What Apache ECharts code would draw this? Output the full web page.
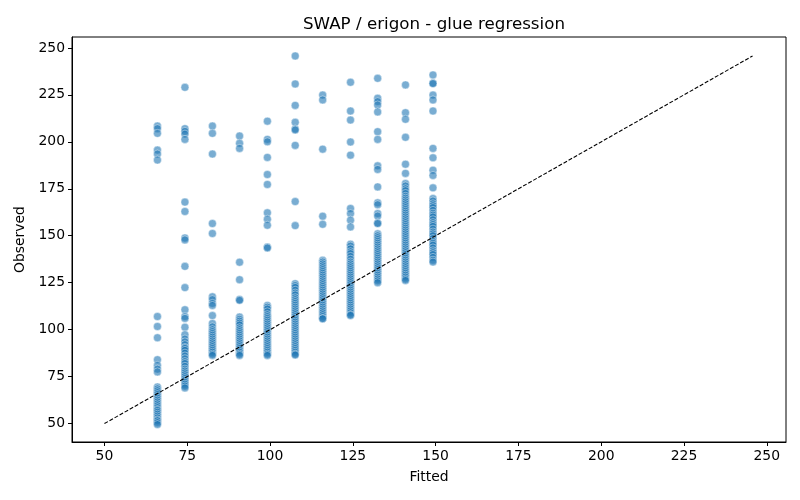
<!DOCTYPE html>
<html>
<head>
<meta charset="utf-8">
<script src="https://cdn.jsdelivr.net/npm/echarts@6/dist/echarts.min.js"></script>
<style>
  html, body { margin: 0; padding: 0; background: #fff; }
  #chart { width: 800px; height: 500px; }
</style>
</head>
<body>
<div id="chart"></div>
<script>
// fitted levels (x) and the observed values read at each level (y)
const fittedLevels = [66.0, 74.3, 82.6, 90.8, 99.2, 107.6, 115.9, 124.3, 132.5, 140.9, 149.2];

const obs66 = [208.4, 207, 204.5, 195.6, 193.5, 190.3, 107, 101.7, 95.7, 84, 81, 79, 77.5,
  69.5, 68.5, 67.5, 66.5, 65.5, 64.5, 63.5, 62.5, 61.5, 60.5, 59.5, 58.5, 57.5, 57, 56, 55,
  54, 53, 52, 51.5, 50.5, 49.5];
const obs74 = [229, 207, 205.6, 204.1, 201.3, 167.9, 162.9, 148.8, 147.8, 133.7, 122.4, 110.6,
  107, 106, 101.3, 97.3, 95, 93.5, 92, 90.5, 90, 89, 87.5, 86, 84.5, 83, 82, 80.5, 79, 78, 77,
  76, 75, 74, 73, 72, 71, 70, 69];
const obs83 = [208.4, 204.5, 193.5, 156.5, 151.2, 117.5, 116, 114, 112.9, 107.5, 103.3, 101.5,
  100, 99, 98, 97, 96, 95, 94, 93, 92, 91, 90, 89, 88, 87, 86.3];
const obs91 = [203.1, 199.2, 196.5, 135.9, 126.6, 116, 115.6, 106.7, 105.5, 104.5, 103.5, 102.5,
  101, 100, 99, 98, 97, 96, 95, 94, 93, 92, 91, 90, 89, 88, 87, 86.3];
const obs99 = [211, 201.3, 200, 191.7, 182.6, 177.3, 162.2, 158.8, 155.6, 144, 143.5, 112.9,
  112, 111, 109.5, 108, 107, 106, 105, 104, 103, 102, 101, 100, 99, 98, 97, 96, 95, 94, 93, 92,
  91, 90, 89, 88, 87, 86.3];
const obs108 = [245.7, 230.8, 219.4, 210.4, 206.8, 206.3, 198.1, 168.2, 155.4, 124.5, 123.5,
  122.5, 121, 119.5, 118.5, 117, 116, 115, 114, 113, 112, 111, 110, 109, 108, 107, 106, 105,
  104, 103, 102, 101, 100, 99, 98, 97, 96, 95, 94, 93, 92, 91, 90, 89, 88, 87, 86.5];
const obs116 = [224.9, 222.3, 196.1, 160.4, 156.1, 136.9, 136, 135, 134, 133, 132, 131, 130,
  129, 128, 127, 126, 125, 124, 123, 122, 121, 120, 119, 118, 117, 116, 115, 114, 113, 112,
  111, 110, 109, 108, 107, 106, 105.8];
const obs124 = [231.7, 216.4, 211.6, 199.9, 192.9, 164.5, 161.8, 158.3, 154.7, 145.5, 144.5,
  143, 141.5, 140.5, 139, 137.5, 136, 135, 134, 133, 132, 131, 130, 129, 128, 127, 126, 125,
  124, 123, 122, 121, 120, 119, 118, 117, 116, 115, 114, 113, 112, 111, 110, 109, 108, 107.6];
const obs133 = [233.8, 223.2, 221.4, 219.6, 215.9, 205.4, 201.3, 187.2, 185.3, 176, 167.5,
  166.5, 161.8, 160.5, 156.8, 156.5, 151, 150, 149, 148, 147, 146, 145, 144, 143, 142, 141,
  140, 139, 138, 137, 136, 135, 134, 133, 132, 131, 130, 129, 128, 127, 126, 125];
const obs141 = [230.3, 215.5, 212, 202.4, 188.1, 183.2, 177.8, 176.5, 175, 174, 172.5, 171,
  170, 169, 168, 167, 166, 165, 164, 163, 162, 161, 160, 159, 158, 157, 156, 155, 154, 153,
  152, 151, 150, 149, 148, 147, 146, 145, 144, 143, 142, 141, 140, 139, 138, 137, 136, 135,
  134, 133, 132, 131, 130, 129, 128, 127, 126.2];
const obs149 = [235.6, 231.2, 231, 224.9, 222.3, 216.4, 196.5, 191.5, 184.9, 182.1, 175.5,
  169.8, 168.5, 167, 166, 165, 163.5, 162, 161, 160, 158.5, 157, 156, 155, 153.5, 152, 151,
  150, 148.5, 147, 146, 145, 143.5, 142, 141, 140, 138.5, 137, 136];

const observedByLevel = [obs66, obs74, obs83, obs91, obs99, obs108, obs116, obs124, obs133, obs141, obs149];

// identity reference line ends
const lineLow = 50;
const lineHigh = 245.7;

const tickValues = [50, 75, 100, 125, 150, 175, 200, 225, 250];
const axisMin = 40.2;
const axisMax = 255.8;

const points = [];
fittedLevels.forEach((x, i) => {
  observedByLevel[i].forEach(y => points.push([x, y]));
});

const font = 'DejaVu Sans';
const chart = echarts.init(document.getElementById('chart'));

const axisCommon = {
  type: 'value',
  min: axisMin,
  max: axisMax,
  nameLocation: 'middle',
  nameTextStyle: { color: '#000', fontSize: 13.9, fontFamily: font },
  axisLine: { show: true, onZero: false, lineStyle: { color: '#000', width: 1 } },
  axisTick: { show: true, inside: false, length: 4, customValues: tickValues, lineStyle: { color: '#000' } },
  axisLabel: { color: '#000', fontSize: 13.9, fontFamily: font, customValues: tickValues },
  splitLine: { show: false }
};

chart.setOption({
  animation: false,
  backgroundColor: '#fff',
  title: {
    text: 'SWAP / erigon - glue regression',
    left: 429,
    top: 11,
    textAlign: 'center',
    textStyle: { color: '#000', fontSize: 16.7, fontWeight: 'normal', fontFamily: font }
  },
  grid: { left: 72, right: 14, top: 37, bottom: 58, containLabel: false,
    show: true, borderColor: '#000', borderWidth: 1 },
  xAxis: Object.assign({}, axisCommon, {
    name: 'Fitted', nameGap: 28,
    axisLabel: Object.assign({}, axisCommon.axisLabel, { margin: 7 })
  }),
  yAxis: Object.assign({}, axisCommon, {
    name: 'Observed', nameGap: 43,
    axisLabel: Object.assign({}, axisCommon.axisLabel, { margin: 7 })
  }),
  series: [
    {
      type: 'scatter',
      data: points,
      symbol: 'circle',
      symbolSize: 8,
      itemStyle: {
        color: 'rgba(31,119,180,0.75)',
        borderColor: 'rgba(255,255,255,0.75)',
        borderWidth: 0.7
      },
      z: 2
    },
    {
      type: 'line',
      data: [[lineLow, lineLow], [lineHigh, lineHigh]],
      symbol: 'none',
      lineStyle: { color: '#000', width: 1.1, type: [4, 1.8] },
      z: 3
    }
  ]
});
</script>
</body>
</html>
